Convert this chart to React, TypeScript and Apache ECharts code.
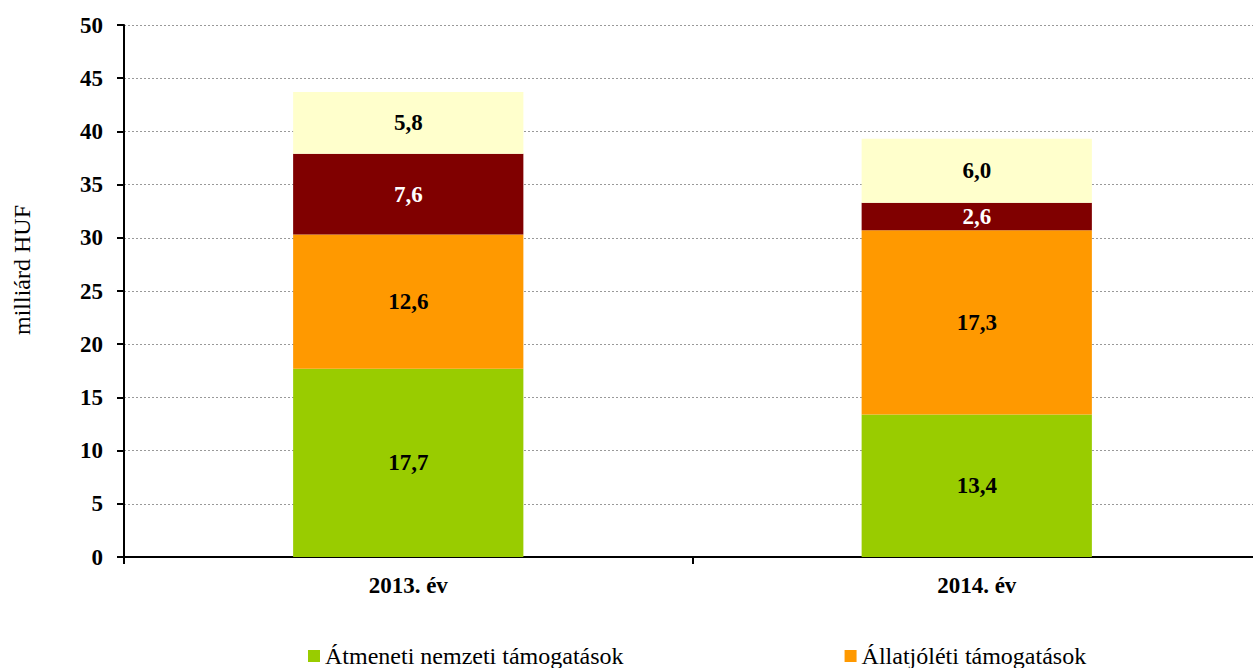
import React, { useEffect, useRef } from "react";
import * as echarts from "echarts";

const categories = ["2013. év", "2014. év"];
const seriesNames = [
  "Átmeneti nemzeti támogatások",
  "Állatjóléti támogatások",
  "Egyéb nemzeti támogatások",
  "Egyéb támogatások",
];
const greenValues = [17.7, 13.4];
const orangeValues = [12.6, 17.3];
const darkRedValues = [7.6, 2.6];
const yellowValues = [5.8, 6.0];
const legendItems = ["Átmeneti nemzeti támogatások", "Állatjóléti támogatások"];
const yAxisTitle = "milliárd HUF";

const FONT = '"Liberation Serif", "Times New Roman", serif';

export default function App() {
  const ref = useRef<HTMLDivElement>(null);
  useEffect(() => {
    document.body.style.margin = "0";
    document.body.style.overflow = "hidden";
    const chart = echarts.init(ref.current!, null, { renderer: "svg" });
    const values = [greenValues, orangeValues, darkRedValues, yellowValues];
    const colors = ["#99CC00", "#FF9900", "#800000", "#FFFFCC"];
    const labelColors = ["#000", "#000", "#fff", "#000"];
    chart.setOption({
      animation: false,
      textStyle: { fontFamily: FONT },
      grid: { left: 124, right: 0, top: 25, bottom: 111, containLabel: false },
      legend: {
        data: legendItems,
        left: 303,
        top: 639,
        itemGap: 221,
        itemWidth: 12,
        itemHeight: 12,
        icon: "rect",
        textStyle: { fontFamily: FONT, fontSize: 24, color: "#000" },
      },
      graphic: [
        {
          type: "text",
          x: 22,
          y: 270,
          rotation: Math.PI / 2,
          style: {
            text: yAxisTitle,
            font: `24px ${FONT}`,
            fill: "#000",
            align: "center",
            verticalAlign: "middle",
          },
        },
      ],
      xAxis: {
        type: "category",
        data: categories,
        axisLine: { lineStyle: { color: "#000", width: 2 } },
        axisTick: { show: true, length: 7, lineStyle: { color: "#000", width: 2 } },
        axisLabel: {
          fontFamily: FONT,
          fontSize: 23,
          fontWeight: "bold",
          color: "#000",
          margin: 17,
        },
      },
      yAxis: {
        type: "value",
        min: 0,
        max: 50,
        interval: 5,
        axisLine: { show: true, lineStyle: { color: "#000", width: 2 } },
        axisTick: { show: true, length: 7, lineStyle: { color: "#000", width: 2 } },
        axisLabel: {
          fontFamily: FONT,
          fontSize: 23,
          fontWeight: "bold",
          color: "#000",
          margin: 21,
        },
        splitLine: {
          show: true,
          lineStyle: { color: "#999", type: [2, 2], width: 1 },
        },
      },
      series: seriesNames.map((name, i) => ({
        name,
        type: "bar",
        stack: "total",
        data: values[i],
        barWidth: "40.5%",
        itemStyle: { color: colors[i] },
        label: {
          show: true,
          position: "inside",
          fontFamily: FONT,
          fontSize: 23,
          fontWeight: "bold",
          color: labelColors[i],
          formatter: (p: any) => Number(p.value).toFixed(1).replace(".", ","),
        },
      })),
    });
    return () => chart.dispose();
  }, []);
  return (
    <div
      ref={ref}
      style={{ position: "absolute", left: 0, top: 0, width: 1261, height: 668 }}
    />
  );
}
